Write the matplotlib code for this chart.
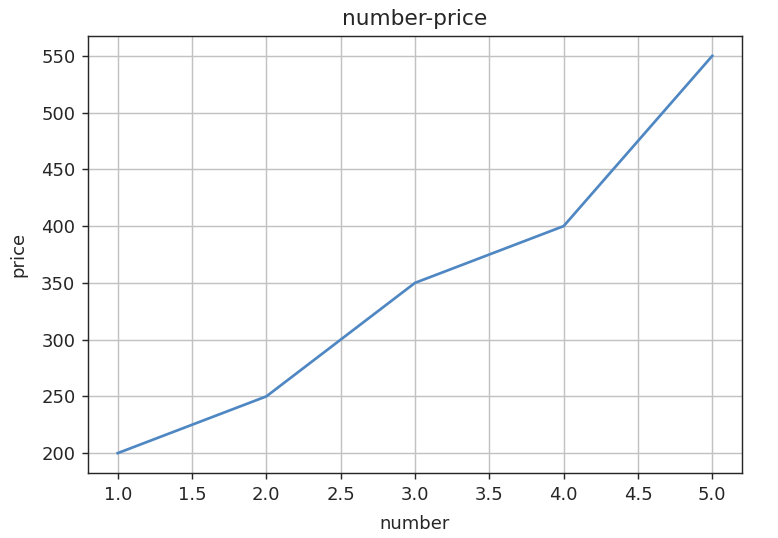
import matplotlib
matplotlib.use('Agg')
import matplotlib.pyplot as plt

number = [1, 2, 3, 4, 5]
price = [200, 250, 350, 400, 550]

s = 1.8 * 72 / 100  # scale of the original render relative to dpi 100
plt.rcParams['font.size'] = 10 * 1.8 * 72 / 100
plt.rcParams['axes.linewidth'] = 0.8 * s
plt.rcParams['xtick.major.width'] = 0.8 * s
plt.rcParams['ytick.major.width'] = 0.8 * s
plt.rcParams['xtick.major.size'] = 3.5 * s
plt.rcParams['ytick.major.size'] = 3.5 * s
plt.rcParams['xtick.major.pad'] = 3.5 * s
plt.rcParams['ytick.major.pad'] = 3.5 * s
plt.rcParams['text.color'] = '#262626'
plt.rcParams['xtick.color'] = '#262626'
plt.rcParams['ytick.color'] = '#262626'
plt.rcParams['axes.edgecolor'] = '#262626'
plt.rcParams['axes.labelcolor'] = '#262626'

fig = plt.figure(figsize=(7.78, 5.38), dpi=100)
ax = fig.add_axes([88 / 778, 1 - 473 / 538, (742 - 88) / 778, (473 - 36) / 538])
ax.plot(number, price, color='#4f87c3', linewidth=1.5 * s)
ax.grid(True, color='#c2c2c2', linewidth=0.8 * s)
ax.set_xlabel('number', labelpad=4 * s + 3)
ax.set_ylabel('price', labelpad=4 * s + 5)
ax.set_title('number-price', pad=6 * s)
fig.savefig('out.png', dpi=100)
